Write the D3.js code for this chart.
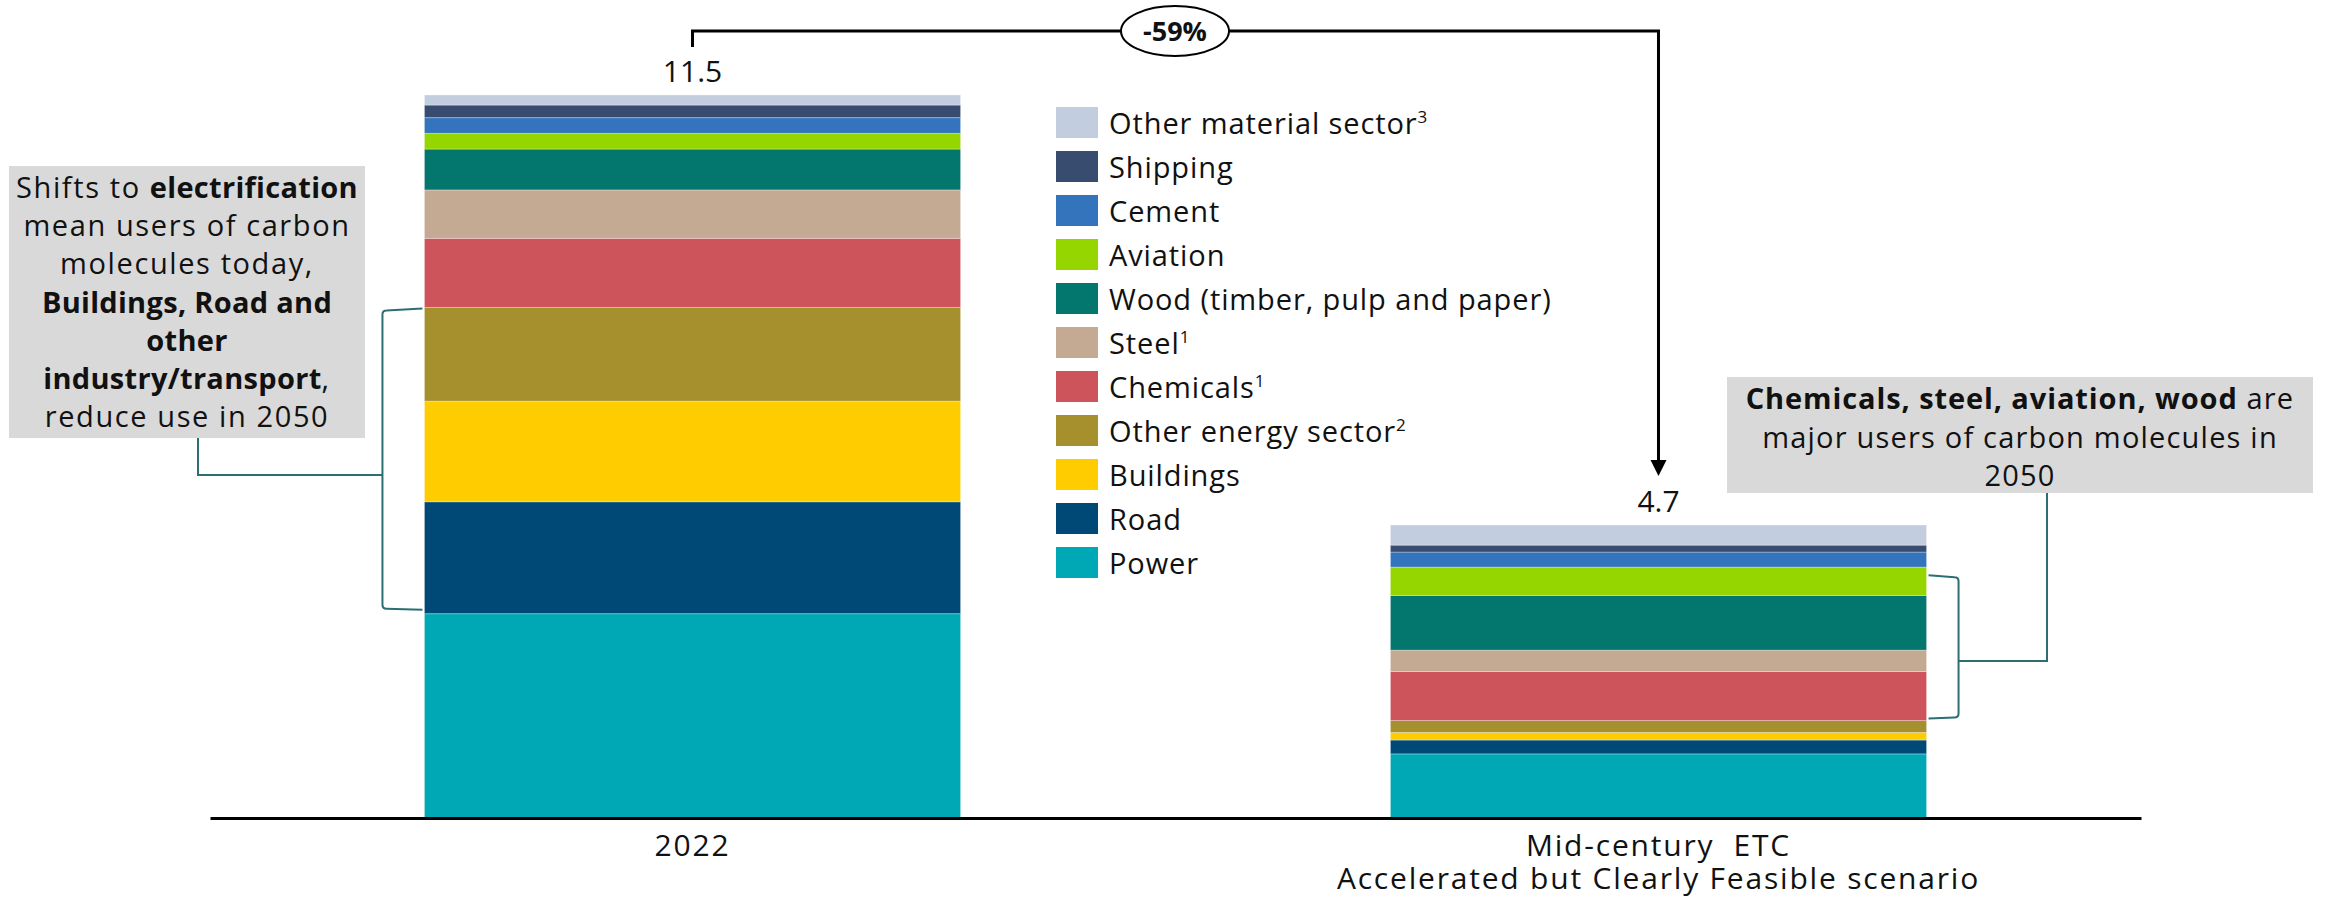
<!DOCTYPE html>
<html>
<head>
<meta charset="utf-8">
<script src="https://cdn.jsdelivr.net/npm/d3@7"></script>
<style>
  html, body { margin: 0; padding: 0; background: #ffffff; }
  svg { display: block; }
  text { font-family: "Century Gothic", "Open Sans", sans-serif; fill: #111; }
</style>
</head>
<body>
<svg id="chart" width="2326" height="898"></svg>
<script>
// ---- data ----
const categories = ["2022", "2050"];
const categoryLabels = [["2022"], ["Mid-century  ETC", "Accelerated but Clearly Feasible scenario"]];
const totalLabels = ["11.5", "4.7"];
// bottom-to-top stacking order
const sectors = ["Power", "Road", "Buildings", "Other energy sector", "Chemicals", "Steel",
                 "Wood (timber, pulp and paper)", "Aviation", "Cement", "Shipping", "Other material sector"];
const sectorSup = ["", "", "", "2", "1", "1", "", "", "", "", "3"];
const values2022 = [3.25, 1.78, 1.60, 1.49, 1.10, 0.77, 0.65, 0.25, 0.25, 0.20, 0.16];
const values2050 = [1.02, 0.22, 0.12, 0.19, 0.78, 0.34, 0.87, 0.45, 0.24, 0.11, 0.32];
const sectorColors = ["#00a8b5", "#004976", "#ffcc00", "#a68f2d", "#cd545b", "#c4a993",
                      "#03766e", "#96d600", "#3474bc", "#374c6e", "#c3cde0"];
const changeLabel = "-59%";

// ---- setup ----
const svg = d3.select("#chart");
const x = d3.scaleBand().domain(categories).range([210, 2141]).paddingInner(0.445).paddingOuter(0.222);
const y = d3.scaleLinear().domain([0, 11.5]).range([818, 95]);
const color = d3.scaleOrdinal().domain(sectors).range(sectorColors);

const rows = categories.map((c, i) => {
  const r = { cat: c };
  sectors.forEach((s, j) => { r[s] = (i === 0 ? values2022 : values2050)[j]; });
  return r;
});
const stacked = d3.stack().keys(sectors)(rows);

// ---- bars ----
const layers = svg.append("g").selectAll("g").data(stacked).join("g")
  .attr("fill", d => color(d.key));
layers.selectAll("rect").data(d => d).join("rect")
  .attr("x", d => x(d.data.cat))
  .attr("width", x.bandwidth())
  .attr("y", d => y(d[1]))
  .attr("height", d => y(d[0]) - y(d[1]))
  .attr("stroke", "rgba(255,255,255,0.3)")
  .attr("stroke-width", 1);

// totals
const totalsArr = rows.map(r => d3.sum(sectors, s => r[s]));
svg.append("g").selectAll("text").data(categories).join("text")
  .attr("x", d => x(d) + x.bandwidth() / 2)
  .attr("y", (d, i) => y(totalsArr[i]) - 13)
  .attr("text-anchor", "middle")
  .attr("font-size", 30)
  .text((d, i) => totalLabels[i]);

// ---- axis ----
const xAxis = d3.axisBottom(x).tickSize(0).tickFormat("");
const axisG = svg.append("g").attr("transform", `translate(0,${y(0)})`).call(xAxis);
axisG.select(".domain").attr("stroke", "#000").attr("stroke-width", 3);

const catG = svg.append("g");
categories.forEach((c, i) => {
  categoryLabels[i].forEach((line, k) => {
    catG.append("text")
      .attr("x", x(c) + x.bandwidth() / 2)
      .attr("y", 856 + k * 33)
      .attr("text-anchor", "middle")
      .attr("font-size", 30)
      .attr("letter-spacing", 1.8)
      .style("white-space", "pre")
      .text(line);
  });
});

// ---- legend ----
const legendOrder = sectors.map((s, i) => i).reverse();
const legend = svg.append("g").attr("transform", "translate(1056,107)");
legendOrder.forEach((idx, k) => {
  const g = legend.append("g").attr("transform", `translate(0,${k * 44})`);
  g.append("rect").attr("width", 42).attr("height", 31).attr("fill", sectorColors[idx]);
  const t = g.append("text").attr("x", 53).attr("y", 27).attr("font-size", 29)
    .attr("letter-spacing", 0.9).text(sectors[idx]);
  if (sectorSup[idx]) {
    t.append("tspan").attr("dy", -11).attr("font-size", 17).attr("letter-spacing", 0).text(sectorSup[idx]);
  }
});

// ---- -59% arrow ----
const cx1 = x(categories[0]) + x.bandwidth() / 2;
const cx2 = x(categories[1]) + x.bandwidth() / 2;
const topY = 31;
svg.append("path")
  .attr("d", `M${cx1},47 V${topY} H${cx2} V${y(totalsArr[1]) - 62}`)
  .attr("fill", "none").attr("stroke", "#000").attr("stroke-width", 3);
const tipY = y(totalsArr[1]) - 49;
svg.append("path")
  .attr("d", `M${cx2 - 8},${tipY - 16} L${cx2 + 8},${tipY - 16} L${cx2},${tipY} Z`)
  .attr("fill", "#000");
const ex = 1175;
svg.append("ellipse").attr("cx", ex).attr("cy", topY).attr("rx", 54).attr("ry", 25)
  .attr("fill", "#fff").attr("stroke", "#000").attr("stroke-width", 2);
svg.append("text").attr("x", ex).attr("y", topY + 10).attr("text-anchor", "middle")
  .attr("font-size", 27).attr("font-weight", "bold").text(changeLabel);

// ---- annotation boxes ----
function annotBox(x0, y0, w, h, lines, fs, lh, firstBase, lsReg, lsBold) {
  svg.append("rect").attr("x", x0).attr("y", y0).attr("width", w).attr("height", h).attr("fill", "#d9d9d9");
  const cxb = x0 + w / 2;
  lines.forEach((parts, k) => {
    const t = svg.append("text").attr("x", cxb).attr("y", firstBase + k * lh)
      .attr("text-anchor", "middle").attr("font-size", fs);
    parts.forEach(p => t.append("tspan")
      .attr("font-weight", p[1] ? "bold" : "normal")
      .attr("letter-spacing", p[1] ? lsBold : lsReg)
      .style("white-space", "pre")
      .text(p[0]));
  });
}
annotBox(9, 166, 356, 272, [
  [["Shifts to ", 0], ["electrification", 1]],
  [["mean users of carbon", 0]],
  [["molecules today,", 0]],
  [["Buildings, Road and", 1]],
  [["other", 1]],
  [["industry/transport", 1], [",", 0]],
  [["reduce use in 2050", 0]]
], 29, 38.2, 198, 1.6, 0.3);

annotBox(1727, 377, 586, 116, [
  [["Chemicals, steel, aviation, wood", 1], [" are", 0]],
  [["major users of carbon molecules in", 0]],
  [["2050", 0]]
], 29, 38.5, 409, 1.2, 0.9);

// ---- brackets / connectors ----
const teal = "#2b6f73";
const s2022 = (k) => stacked[sectors.indexOf(k)][0];
const s2050 = (k) => stacked[sectors.indexOf(k)][1];
const bx1 = x(categories[0]);
const bTop = y(s2022("Other energy sector")[1]) + 1;
const bBot = y(s2022("Road")[0]) - 5;
const bxL = bx1 - 42;
svg.append("path")
  .attr("d", `M${bx1 - 2},${bTop} L${bxL + 4},${bTop + 2} Q${bxL},${bTop + 2} ${bxL},${bTop + 6} L${bxL},${bBot - 4} Q${bxL},${bBot} ${bxL + 4},${bBot} L${bx1 - 2},${bBot + 1}`)
  .attr("fill", "none").attr("stroke", teal).attr("stroke-width", 2);
svg.append("path")
  .attr("d", `M198,438 V475 H${bxL}`)
  .attr("fill", "none").attr("stroke", teal).attr("stroke-width", 2);

const bx2 = x(categories[1]) + x.bandwidth();
const rTop = y(s2050("Aviation")[1]) + 9;
const rBot = y(s2050("Chemicals")[0]) - 3;
const bxR = bx2 + 32;
svg.append("path")
  .attr("d", `M${bx2 + 2},${rTop - 1} L${bxR - 4},${rTop + 1} Q${bxR},${rTop + 1} ${bxR},${rTop + 5} L${bxR},${rBot - 4} Q${bxR},${rBot} ${bxR - 4},${rBot} L${bx2 + 2},${rBot + 1}`)
  .attr("fill", "none").attr("stroke", teal).attr("stroke-width", 2);
svg.append("path")
  .attr("d", `M${bxR},661 H2047 V493`)
  .attr("fill", "none").attr("stroke", teal).attr("stroke-width", 2);
</script>
</body>
</html>
